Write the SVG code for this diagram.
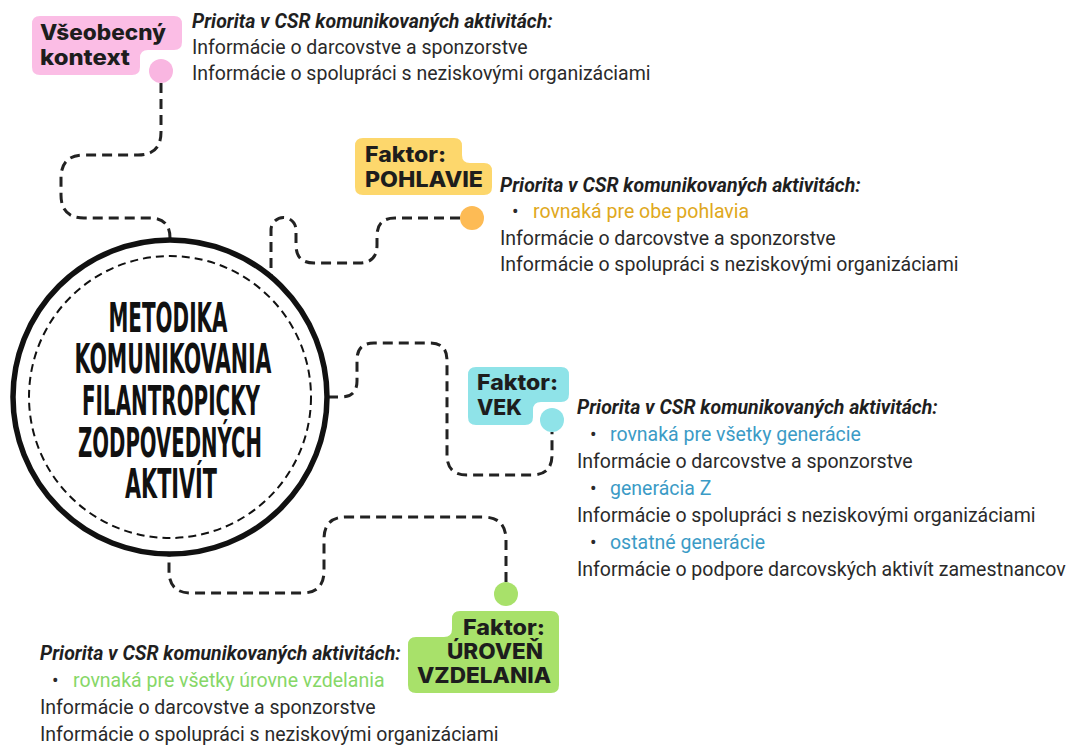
<svg xmlns="http://www.w3.org/2000/svg" width="1068" height="745" viewBox="0 0 1068 745">
  <style>
    .link { fill: none; stroke: #222; stroke-width: 3; stroke-dasharray: 10 6; }
    .tag { font-family: Inter, "Open Sans", "DejaVu Sans", sans-serif; font-weight: 800; font-size: 21px; fill: #1d1d1d; }
    .head { font-family: Roboto, "Liberation Sans", sans-serif; font-weight: 700; font-style: italic; font-size: 19.5px; fill: #1f1f1f; }
    .body { font-family: Roboto, "Liberation Sans", sans-serif; font-size: 19.5px; fill: #2a2a2a; }
    .title { font-family: "DejaVu Sans Condensed", "DejaVu Sans", sans-serif; font-weight: 700; font-size: 41px; fill: #111; text-anchor: middle; }
    .gold { fill: #e0a820; }
    .blue { fill: #3b9bc6; }
    .green { fill: #86d767; }
  </style>

  <rect width="1068" height="745" fill="#fff"/>

  <!-- dashed connectors -->
  <g id="connectors">
    <path class="link" d="M161,83 V132 Q161,155 138,155 H84 Q61,155 61,178 V195 Q61,218 84,218 H150 Q170,218 170,238 V241"/>
    <path class="link" d="M460,218 H395 Q377,218 377,236 V245 Q377,263 359,263 H314 Q296,263 296,245 V230 A12.5,12.5 0 0 0 271,230 V276"/>
    <path class="link" d="M328,397 H341 Q357,397 357,381 V360 Q357,343 374,343 H430 Q447,343 447,360 V455 Q447,475 467,475 H532 Q552,475 552,455 V432"/>
    <path class="link" d="M506,582 V540 Q506,517 483,517 H346 Q324,517 324,539 V571 Q324,593 302,593 H191 Q169,593 169,571 V555"/>
  </g>

  <!-- central hub -->
  <g id="hub">
    <circle cx="170" cy="397" r="157" fill="#fff" stroke="#111" stroke-width="5.5"/>
    <circle cx="170" cy="397" r="141" fill="none" stroke="#111" stroke-width="2" stroke-dasharray="8 5"/>
    <text class="title" x="168" y="332" textLength="119" lengthAdjust="spacingAndGlyphs">METODIKA</text>
    <text class="title" x="173" y="373" textLength="197" lengthAdjust="spacingAndGlyphs">KOMUNIKOVANIA</text>
    <text class="title" x="171" y="415" textLength="178" lengthAdjust="spacingAndGlyphs">FILANTROPICKY</text>
    <text class="title" x="170" y="457" textLength="184" lengthAdjust="spacingAndGlyphs">ZODPOVEDNÝCH</text>
    <text class="title" x="171" y="498" textLength="92" lengthAdjust="spacingAndGlyphs">AKTIVÍT</text>
  </g>

  <!-- general context -->
  <g id="vseobecny">
    <path fill="#fbbde5" d="M40,16 H174 Q182,16 182,24 V42 Q182,50 174,50 H148 Q140,50 140,58 V67 Q140,75 132,75 H40 Q32,75 32,67 V24 Q32,16 40,16 Z"/>
    <circle cx="161" cy="71" r="12" fill="#f9b6e1"/>
    <text class="tag" x="40" y="40" textLength="126" lengthAdjust="spacingAndGlyphs">Všeobecný</text>
    <text class="tag" x="40" y="65" textLength="90" lengthAdjust="spacingAndGlyphs">kontext</text>
    <text class="head" x="192" y="28">Priorita v CSR komunikovaných aktivitách:</text>
    <text class="body" x="192" y="54">Informácie o darcovstve a sponzorstve</text>
    <text class="body" x="192" y="80">Informácie o spolupráci s neziskovými organizáciami</text>
  </g>

  <!-- gender factor -->
  <g id="pohlavie">
    <path fill="#fdd76c" d="M363,138 H454 Q462,138 462,146 V155 Q462,163 470,163 H484 Q492,163 492,171 V187 Q492,195 484,195 H363 Q355,195 355,187 V146 Q355,138 363,138 Z"/>
    <circle cx="472" cy="218" r="12" fill="#fdbb55"/>
    <text class="tag" x="365" y="162" textLength="81" lengthAdjust="spacingAndGlyphs">Faktor:</text>
    <text class="tag" x="365" y="187" textLength="118" lengthAdjust="spacingAndGlyphs">POHLAVIE</text>
    <text class="head" x="500" y="192">Priorita v CSR komunikovaných aktivitách:</text>
    <text class="body" x="512" y="218">•</text>
    <text class="body gold" x="533" y="218">rovnaká pre obe pohlavia</text>
    <text class="body" x="500" y="245">Informácie o darcovstve a sponzorstve</text>
    <text class="body" x="500" y="271">Informácie o spolupráci s neziskovými organizáciami</text>
  </g>

  <!-- age factor -->
  <g id="vek">
    <path fill="#8fe3e8" d="M476,367 H561 Q569,367 569,375 V394 Q569,402 561,402 H541 Q533,402 533,410 V417 Q533,425 525,425 H476 Q468,425 468,417 V375 Q468,367 476,367 Z"/>
    <circle cx="552" cy="420" r="12" fill="#8fe3e8"/>
    <text class="tag" x="477" y="390" textLength="81" lengthAdjust="spacingAndGlyphs">Faktor:</text>
    <text class="tag" x="477" y="415" textLength="45" lengthAdjust="spacingAndGlyphs">VEK</text>
    <text class="head" x="577" y="414">Priorita v CSR komunikovaných aktivitách:</text>
    <text class="body" x="590" y="441">•</text>
    <text class="body blue" x="610" y="441">rovnaká pre všetky generácie</text>
    <text class="body" x="577" y="468">Informácie o darcovstve a sponzorstve</text>
    <text class="body" x="590" y="495">•</text>
    <text class="body blue" x="610" y="495">generácia Z</text>
    <text class="body" x="577" y="522">Informácie o spolupráci s neziskovými organizáciami</text>
    <text class="body" x="590" y="549">•</text>
    <text class="body blue" x="610" y="549">ostatné generácie</text>
    <text class="body" x="577" y="576">Informácie o podpore darcovských aktivít zamestnancov</text>
  </g>

  <!-- education factor -->
  <g id="vzdelanie">
    <path fill="#a8e16a" d="M460,611 H551 Q559,611 559,619 V685 Q559,693 551,693 H416 Q408,693 408,685 V645 Q408,637 416,637 H444 Q452,637 452,629 V619 Q452,611 460,611 Z"/>
    <circle cx="506" cy="594" r="12" fill="#a8e16a"/>
    <text class="tag" x="463" y="635" textLength="82" lengthAdjust="spacingAndGlyphs">Faktor:</text>
    <text class="tag" x="447" y="659" textLength="96" lengthAdjust="spacingAndGlyphs">ÚROVEŇ</text>
    <text class="tag" x="417" y="683" textLength="134" lengthAdjust="spacingAndGlyphs">VZDELANIA</text>
    <text class="head" x="40" y="660">Priorita v CSR komunikovaných aktivitách:</text>
    <text class="body" x="52" y="687">•</text>
    <text class="body green" x="73" y="687">rovnaká pre všetky úrovne vzdelania</text>
    <text class="body" x="40" y="714">Informácie o darcovstve a sponzorstve</text>
    <text class="body" x="40" y="741">Informácie o spolupráci s neziskovými organizáciami</text>
  </g>
</svg>
